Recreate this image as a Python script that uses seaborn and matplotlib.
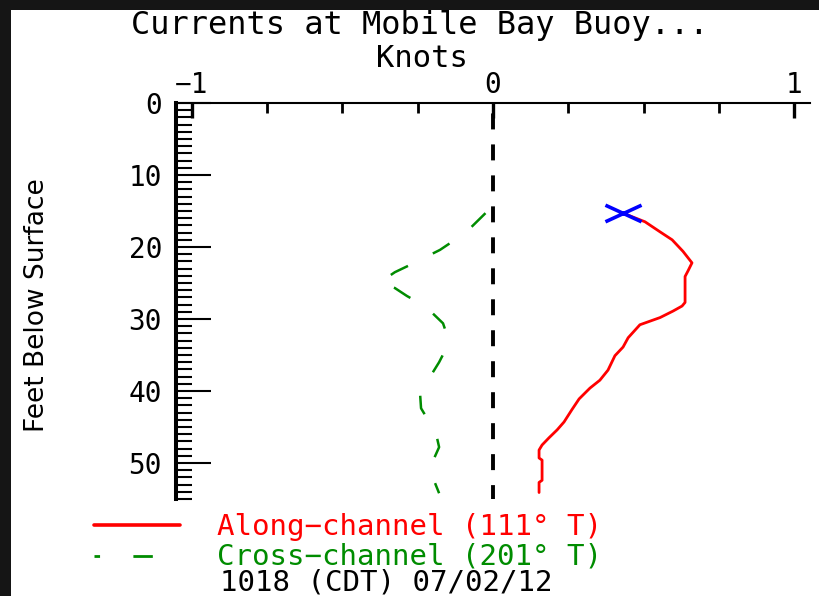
import matplotlib
matplotlib.use('Agg')
import matplotlib.pyplot as plt
from matplotlib.lines import Line2D
from matplotlib.patches import Rectangle
from matplotlib.path import Path
from matplotlib.ticker import MultipleLocator
import seaborn as sns

# Along-channel current profile (knots vs feet below surface)
along_knots = [0.432, 0.505, 0.555, 0.595, 0.631, 0.661, 0.648, 0.638, 0.638, 0.628,
               0.598, 0.555, 0.488, 0.449, 0.432, 0.405, 0.382, 0.355, 0.322, 0.286,
               0.262, 0.236, 0.213, 0.186, 0.163, 0.153, 0.153, 0.163, 0.163, 0.153, 0.153]
along_depth = [15.3, 16.5, 17.9, 19.0, 20.6, 22.2, 23.3, 24.1, 27.7, 28.2,
               28.9, 29.8, 30.8, 32.6, 33.9, 35.1, 37.1, 38.5, 39.6, 41.1,
               42.6, 44.3, 45.4, 46.5, 47.5, 48.2, 49.3, 49.6, 52.4, 52.7, 54.1]

# Cross-channel current profile
cross_knots = [-0.025, -0.076, -0.126, -0.176, -0.219, -0.276, -0.326, -0.375, -0.326, -0.286,
               -0.223, -0.166, -0.153, -0.163, -0.179, -0.216, -0.243, -0.239, -0.216, -0.186,
               -0.179, -0.209, -0.203, -0.179]
cross_depth = [15.3, 17.4, 19.0, 20.4, 21.3, 22.5, 23.5, 24.9, 25.7, 26.8,
               28.3, 30.6, 32.2, 34.7, 36.0, 38.5, 39.9, 42.4, 44.0, 46.5,
               47.8, 50.6, 51.7, 54.2]

x_ticks = [-1, 0, 1]
y_ticks = [0, 10, 20, 30, 40, 50]

title = 'Currents at Mobile Bay Buoy...'
x_title = 'Knots'
y_title = 'Feet Below Surface'
along_label = 'Along\u2212channel (111\u00b0 T)'
cross_label = 'Cross\u2212channel (201\u00b0 T)'
stamp = '1018 (CDT) 07/02/12'

RED = '#ff0000'
GREEN = '#008c00'
BLUE = '#0000ff'

sns.set_theme(style='white')
plt.rcParams['font.family'] = ['DejaVu Sans Mono', 'DejaVu Sans']
plt.rcParams['lines.scale_dashes'] = False

W, H = 819, 596
fig = plt.figure(figsize=(W / 100, H / 100), dpi=100, facecolor='#151515')
# white page inside the dark frame
fig.add_artist(Rectangle((11 / W, 0), 1, 1 - 10 / H, transform=fig.transFigure,
                         facecolor='white', edgecolor='none', zorder=-10))

ax = fig.add_axes([176 / W, (H - 499) / H, (810 - 176) / W, (499 - 103) / H])
ax.set_facecolor('none')

green_dash = (0, (14, 20))
sns.lineplot(x=along_knots, y=along_depth, sort=False, estimator=None,
             color=RED, linewidth=2.0, ax=ax)
sns.lineplot(x=cross_knots, y=cross_depth, sort=False, estimator=None,
             color=GREEN, linewidth=1.8, linestyle=green_dash, ax=ax)

# blue X at top bin of the along-channel profile
x_marker = Path([(-1, -0.46), (1, 0.46), (-1, 0.46), (1, -0.46)],
                [Path.MOVETO, Path.LINETO, Path.MOVETO, Path.LINETO])
ax.plot(along_knots[:1], along_depth[:1], linestyle='none', marker=x_marker,
        markersize=26, markeredgewidth=2.6, color=BLUE, zorder=5)

ax.axvline(0, color='black', linewidth=2.8, linestyle=(1.5, (11.5, 10.8)), zorder=1)

ax.set_xlim(-1.053, 1.053)
ax.set_ylim(55, 0)
ax.set_xticks(x_ticks)
ax.set_xticklabels(['\u22121', '0', '1'])
ax.xaxis.set_minor_locator(MultipleLocator(0.25))
ax.set_yticks(y_ticks)
ax.yaxis.set_minor_locator(MultipleLocator(1))
ax.xaxis.tick_top()
ax.tick_params(axis='x', which='major', direction='in', length=11, width=2.4,
               pad=3, labelsize=20, colors='black')
ax.tick_params(axis='x', which='minor', direction='in', length=7.5, width=2.0,
               colors='black')
ax.tick_params(axis='y', which='major', direction='in', length=25, width=1.5,
               pad=10, labelsize=20, colors='black', left=True)
ax.tick_params(axis='y', which='minor', direction='in', length=11.5, width=1.5,
               colors='black', left=True)
ax.set_xlabel('')
ax.set_ylabel('')

for side in ['right', 'bottom']:
    ax.spines[side].set_visible(False)
ax.spines['top'].set_linewidth(1.5)
ax.spines['left'].set_linewidth(2.9)
ax.spines['top'].set_color('black')
ax.spines['left'].set_color('black')

fig.text(420 / W, 1 - 34 / H, title, ha='center', va='baseline', fontsize=23, color='black')
fig.text(422 / W, 1 - 67 / H, x_title, ha='center', va='baseline', fontsize=22, color='black')
fig.text(37 / W, 1 - 305 / H, y_title, ha='center', va='center', rotation=90,
         fontsize=19, family='DejaVu Sans', color='black')

# legend keys and labels under the plot
fig.add_artist(Line2D([94 / W, 180 / W], [1 - 525 / H, 1 - 525 / H], transform=fig.transFigure,
                      color=RED, linewidth=2.6))
fig.add_artist(Line2D([94 / W, 180 / W], [1 - 556 / H, 1 - 556 / H], transform=fig.transFigure,
                      color=GREEN, linewidth=2.0, linestyle=(10, (14, 24))))
fig.text(217 / W, 1 - 535 / H, along_label, ha='left', va='baseline', fontsize=21, color=RED)
fig.text(217 / W, 1 - 564 / H, cross_label, ha='left', va='baseline', fontsize=21, color=GREEN)
fig.text(220 / W, 1 - 590 / H, stamp, ha='left', va='baseline', fontsize=21, color='black')

fig.savefig('out.png', dpi=100, facecolor=fig.get_facecolor())
